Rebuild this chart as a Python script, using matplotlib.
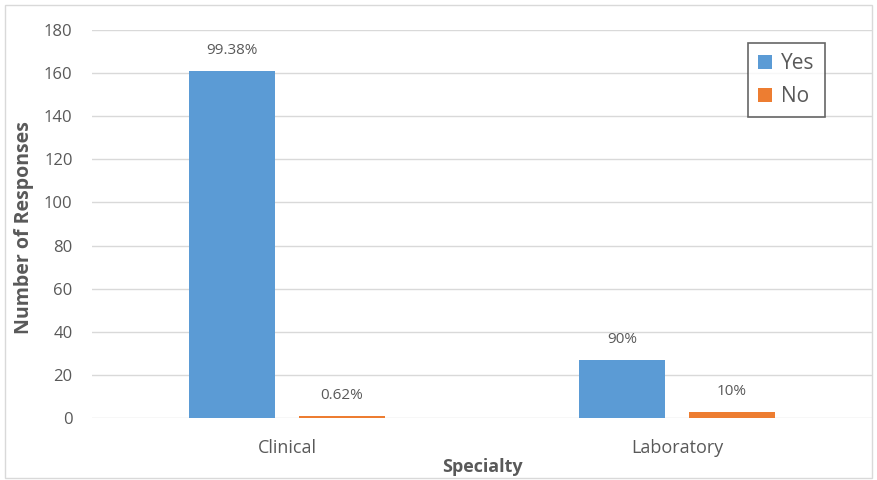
import matplotlib
matplotlib.use("Agg")
import matplotlib.pyplot as plt
import numpy as np
from matplotlib.patches import Rectangle

categories = ["Clinical", "Laboratory"]
yes_values = [161, 27]
no_values = [1, 3]
yes_labels = ["99.38%", "90%"]
no_labels = ["0.62%", "10%"]
yticks = [0, 20, 40, 60, 80, 100, 120, 140, 160, 180]

plt.rcParams['font.family'] = ['Open Sans', 'DejaVu Sans']
txt = "#595959"
blue = "#5B9BD5"
orange = "#ED7D31"

fig = plt.figure(figsize=(8.77, 4.8), dpi=100)
W, H = 877, 480
ax = fig.add_axes([92 / W, 1 - 418 / H, (872 - 92) / W, (418 - 30) / H])

x = np.arange(len(categories))
bw = 0.22
off = 0.141
ax.bar(x - off, yes_values, bw, color=blue, label="Yes", zorder=3)
ax.bar(x + off, no_values, bw, color=orange, label="No", zorder=3)

for xi, v, l in zip(x, yes_values, yes_labels):
    ax.text(xi - off, v + 6, l, ha="center", va="bottom", fontsize=11, color=txt)
for xi, v, l in zip(x, no_values, no_labels):
    ax.text(xi + off, v + 6, l, ha="center", va="bottom", fontsize=11, color=txt)

ax.set_xlim(-0.5, 1.5)
ax.set_ylim(0, 180)
ax.set_yticks(yticks)
ax.set_xticks(x)
ax.set_xticklabels(categories)
ax.tick_params(axis="both", length=0, colors=txt)
ax.tick_params(axis="y", pad=14, labelsize=12)
ax.tick_params(axis="x", pad=15, labelsize=13)
ax.grid(axis="y", color="#D9D9D9", linewidth=1, zorder=0)
for s in ax.spines.values():
    s.set_visible(False)

ax.set_ylabel("Number of Responses", fontsize=14, fontweight="bold", color=txt)
ax.yaxis.set_label_coords(-0.074, 0.49)
ax.set_xlabel("Specialty", fontsize=13, fontweight="bold", color=txt)
ax.xaxis.set_label_coords(0.5, -0.103)

leg = ax.legend(loc="upper left", bbox_to_anchor=((748 - 92) / 780, 1 - (43 - 30) / 388),
                fontsize=15, frameon=True, fancybox=False, handlelength=0.65, handleheight=0.65,
                handletextpad=0.45, borderpad=0.5, labelspacing=0.55, borderaxespad=0)
leg.get_frame().set_edgecolor("#404040")
leg.get_frame().set_linewidth(1.2)
for t in leg.get_texts():
    t.set_color(txt)

fig.patches.append(Rectangle((5 / W, 2 / H), (872 - 5) / W, (475 - 2) / H, transform=fig.transFigure,
                             fill=False, edgecolor="#D9D9D9", linewidth=1))

fig.savefig("out.png", dpi=100)
